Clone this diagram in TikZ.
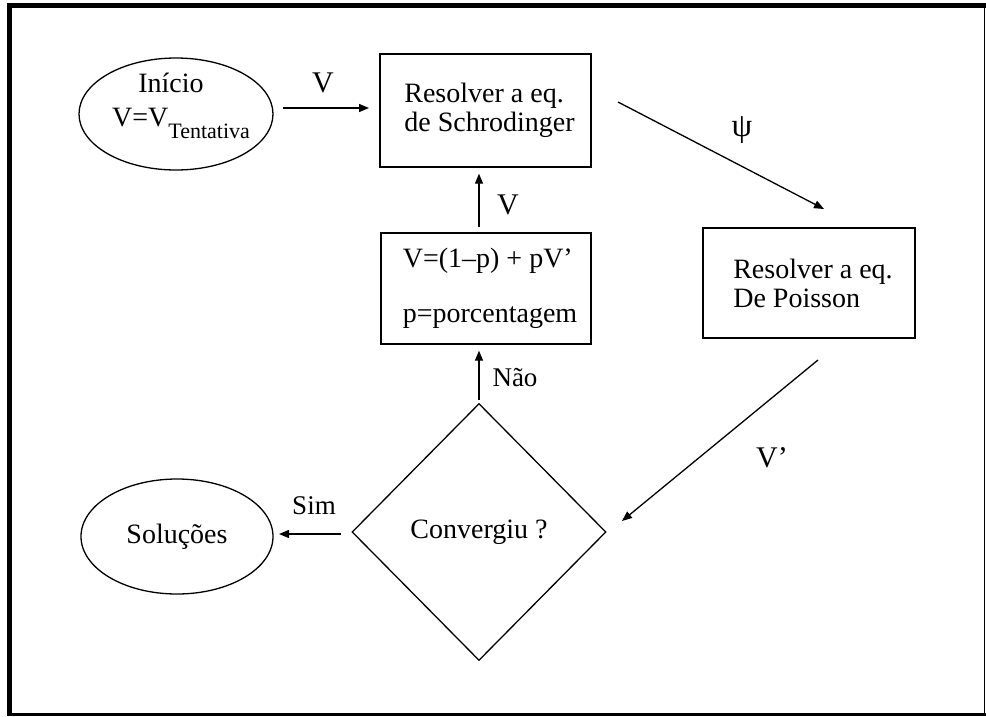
\documentclass[tikz,border=0pt]{standalone}
\usepackage{fontspec}
\setmainfont{Liberation Serif}
\usetikzlibrary{shapes.geometric,arrows.meta}
\begin{document}
\begin{tikzpicture}[x=1pt,y=-1pt,
  box/.style={draw,line width=1.3pt,inner sep=0pt,align=left,font=\fontsize{28}{29}\selectfont},
  oval/.style={draw,ellipse,line width=1.3pt,inner sep=0pt},
  txt/.style={inner sep=0pt,font=\fontsize{28}{29}\selectfont},
  arr/.style={line width=1.3pt,-{Triangle[length=10pt,width=8pt]}},
  lab/.style={inner sep=0pt,font=\fontsize{30}{30}\selectfont},
  slab/.style={inner sep=0pt,font=\fontsize{27}{27}\selectfont}]
\useasboundingbox (0,0) rectangle (986,716);
% frame
\draw[line width=5pt] (9.5,716) -- (9.5,5.5) -- (986,5.5);
\draw[line width=3pt] (9.5,714.5) -- (986,714.5);
\draw[line width=1.5pt] (984.5,5.5) -- (984.5,716);
% nodes
\node[oval,minimum width=194pt,minimum height=112pt] (start) at (176,114) {};
\node[txt,anchor=base] (startA) at (171,92) {Início};
\node[txt,anchor=base] (startB) at (181,126) {V=V\raisebox{-12pt}{\fontsize{22}{22}\selectfont Tentativa}};
\node[box,minimum width=211pt,minimum height=113pt] (schr) at (485.5,110.5) {\hspace*{8pt}Resolver a eq.\\\hspace*{8pt}de Schrodinger};
\node[box,minimum width=210pt,minimum height=111pt,font=\fontsize{28}{55}\selectfont] (upd) at (486,288.5) {\hspace*{8pt}V=(1–p) + pV’\\\hspace*{8pt}p=porcentagem};
\node[box,minimum width=212pt,minimum height=110pt] (pois) at (809,283) {\hspace*{8pt}Resolver a eq.\\\hspace*{8pt}De Poisson};
\node[draw,diamond,line width=1.3pt,minimum width=254pt,minimum height=257pt,inner sep=0pt,font=\fontsize{28}{29}\selectfont] (conv) at (479,532) {Convergiu ?};
\node[oval,minimum width=192pt,minimum height=115pt,font=\fontsize{28}{29}\selectfont] (sol) at (177,536.5) {Soluções};
% connector ends
\coordinate (vS) at (283,108);
\coordinate (vE) at (369,108);
\coordinate (psiS) at (618,102);
\coordinate (psiE) at (824,209);
\coordinate (vpS) at (818,360);
\coordinate (vpE) at (622,521);
\coordinate (simS) at (341,534);
\coordinate (simE) at (279,534);
% connectors
\draw[arr] (vS) -- (vE);
\draw[arr] (psiS) -- (psiE);
\draw[arr] (vpS) -- (vpE);
\draw[arr] (simS) -- (simE);
\draw[arr,shorten <=3pt,shorten >=6pt] (conv.north) -- (conv.north |- upd.south);
\draw[arr,shorten <=5pt,shorten >=6pt] (upd.north -| conv.north) -- (schr.south -| conv.north);
% labels
\node[lab] (lV1) at (323,83) {V};
\node[lab,font=\fontsize{33}{33}\selectfont] (lpsi) at (742,130) {ψ};
\node[lab] (lV2) at (508,205) {V};
\node[slab] (lnao) at (515,378) {Não};
\node[lab] (lVp) at (772,458) {V’};
\node[slab] (lsim) at (314,506) {Sim};
\end{tikzpicture}
\end{document}
